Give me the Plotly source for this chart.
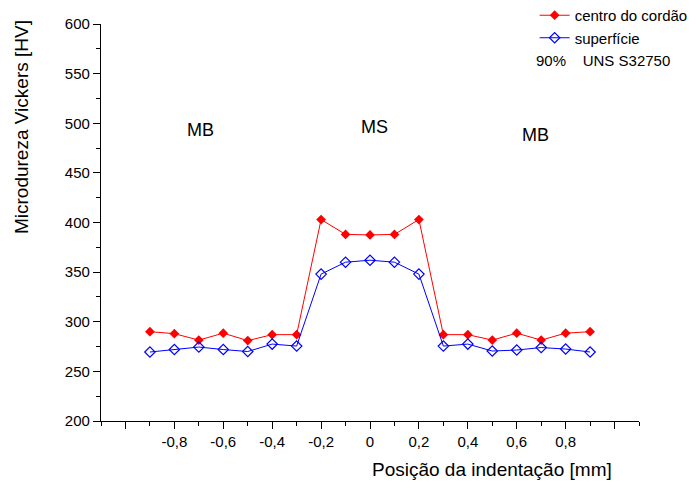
import plotly.graph_objects as go

positions = [-0.9, -0.8, -0.7, -0.6, -0.5, -0.4, -0.3, -0.2, -0.1, 0.0,
             0.1, 0.2, 0.3, 0.4, 0.5, 0.6, 0.7, 0.8, 0.9]
centro = [290, 288, 281.5, 288.5, 281, 287, 287, 403, 388, 387.5,
          388, 403, 287, 287, 281.5, 288.5, 281.5, 288.5, 290]
superficie = [269.5, 272, 274.5, 272, 270, 277.5, 275.5, 348, 360, 362,
              360, 348, 275.5, 277.5, 270.5, 271.5, 274, 272.5, 269.5]

x_tickvals = [-1.0, -0.8, -0.6, -0.4, -0.2, 0.0, 0.2, 0.4, 0.6, 0.8, 1.0]
x_ticktext = ["", "-0,8", "-0,6", "-0,4", "-0,2", "0", "0,2", "0,4", "0,6", "0,8", ""]
x_minor = [-1.1, -0.9, -0.7, -0.5, -0.3, -0.1, 0.1, 0.3, 0.5, 0.7, 0.9, 1.1]

zone_labels = ["MB", "MS", "MB"]
zone_x = [-0.695, 0.018, 0.678]
zone_y = [493, 496, 488]

FONT = "Arial"

fig = go.Figure()
fig.add_trace(go.Scatter(
    x=positions, y=centro, mode="lines+markers", name="centro do cordão",
    legendgroup="a",
    line=dict(color="#ff0000", width=1),
    marker=dict(symbol="diamond", size=7.5, color="#ff0000"),
))
fig.add_trace(go.Scatter(
    x=positions, y=superficie, mode="lines+markers", name="superfície",
    legendgroup="b",
    line=dict(color="#0000ff", width=1),
    marker=dict(symbol="diamond-open", size=8, color="#0000ff", line=dict(width=1.2)),
))

for t, xx, yy in zip(zone_labels, zone_x, zone_y):
    fig.add_annotation(x=xx, y=yy, text=t, showarrow=False,
                       xanchor="center", yanchor="middle",
                       font=dict(size=18, color="black", family=FONT))

fig.add_annotation(xref="paper", yref="paper", x=-0.149, y=0.74,
                   text="Microdureza Vickers [HV]", textangle=-90, showarrow=False,
                   xanchor="center", yanchor="middle",
                   font=dict(size=19, color="black", family=FONT))
fig.add_annotation(xref="paper", yref="paper", x=0.726, y=-0.123,
                   text="Posição da indentação [mm]", showarrow=False,
                   xanchor="center", yanchor="middle",
                   font=dict(size=19, color="black", family=FONT))
fig.add_annotation(xref="paper", yref="paper", x=0.8045, y=0.909,
                   text="90%    UNS S32750", showarrow=False, xanchor="left", yanchor="middle",
                   font=dict(size=15, color="black", family=FONT))

fig.update_layout(
    width=689, height=480,
    margin=dict(l=93, r=58, t=16, b=67, autoexpand=False),
    paper_bgcolor="white", plot_bgcolor="white",
    font=dict(family=FONT, size=15, color="black"),
    showlegend=True,
    legend=dict(x=0.806, y=1.063, xanchor="left", yanchor="top",
                bgcolor="rgba(0,0,0,0)", font=dict(size=15, family=FONT),
                tracegroupgap=0, traceorder="grouped"),
    xaxis=dict(range=[-1.1, 1.1], showgrid=False, zeroline=False,
               showline=True, linecolor="black", linewidth=1.2,
               tickmode="array", tickvals=x_tickvals, ticktext=x_ticktext,
               ticks="outside", ticklen=7, tickcolor="black",
               minor=dict(tickmode="array", tickvals=x_minor, ticks="outside",
                          ticklen=4, tickcolor="black")),
    yaxis=dict(range=[200, 600], showgrid=False, zeroline=False,
               showline=True, linecolor="black", linewidth=1.2,
               tickmode="linear", tick0=200, dtick=50,
               ticks="outside", ticklen=7, tickcolor="black",
               minor=dict(dtick=25, ticks="outside", ticklen=4, tickcolor="black")),
)

fig.write_html("out.html")
